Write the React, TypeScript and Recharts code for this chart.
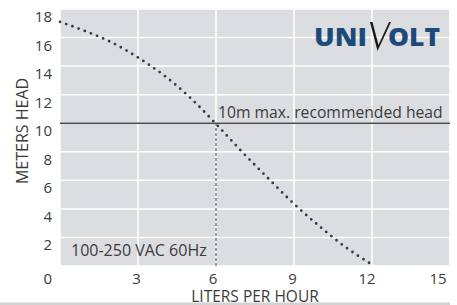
import React from "react";
import { ComposedChart, Line, XAxis, YAxis, CartesianGrid, ReferenceLine } from "recharts";

const flowLph = [0, 1, 2, 3, 4, 5, 6, 7, 8, 9, 10, 11, 12];
const headM = [17.1, 16.43, 15.65, 14.6, 13.35, 11.8, 9.95, 8.0, 6.15, 4.35, 2.75, 1.3, 0.1];
const xTicks = [0, 3, 6, 9, 12, 15];
const yTicks = [0, 2, 4, 6, 8, 10, 12, 14, 16, 18];
const maxHead = 10;
const maxHeadFlow = 6;

const data = flowLph.map((x, i) => ({ x, y: headM[i] }));

const FONT = "'Open Sans', 'Noto Sans', sans-serif";
const TXT = "#3b3b3d";

const YTick = (props: any) => {
  const { x, y, payload } = props;
  const v = payload.value;
  return (
    <text x={x} y={y + (v === 0 ? 11.5 : 7)} textAnchor="end" dominantBaseline="central"
      fontFamily={FONT} fontSize={15} fill={TXT}>{v}</text>
  );
};

const XTick = (props: any) => {
  const { x, y, payload } = props;
  const v = payload.value;
  if (v === 0) return null;
  const dx = v === 15 ? -11 : v === 12 ? -5 : v === 6 ? -3 : -1.5;
  return (
    <text x={x + dx} y={y + 11.5} textAnchor="middle" dominantBaseline="central"
      fontFamily={FONT} fontSize={15} fill={TXT}>{v}</text>
  );
};

export default function App() {
  return (
    <div style={{ position: "absolute", left: 0, top: 0, width: 457, height: 305, background: "#fff" }}>
      <ComposedChart width={457} height={305} data={data} margin={{ top: 9, right: 7, bottom: 9, left: 0 }}>
        <CartesianGrid fill="#dcdde0" stroke="#ffffff" strokeWidth={1.5} />
        <XAxis dataKey="x" type="number" domain={[0, 15]} ticks={xTicks} height={30}
          axisLine={false} tickLine={false} tickSize={0} tickMargin={0} tick={<XTick />} />
        <YAxis type="number" domain={[0, 18]} ticks={yTicks} width={60}
          axisLine={false} tickLine={false} tickSize={0} tickMargin={8} tick={<YTick />} />
        <ReferenceLine y={maxHead} stroke="#4a4c52" strokeWidth={1.5} />
        <ReferenceLine segment={[{ x: maxHeadFlow, y: 0 }, { x: maxHeadFlow, y: maxHead }]}
          stroke="#3c3e44" strokeWidth={1} strokeDasharray="3 2" />
        <Line dataKey="y" type="monotone" stroke="#363942" strokeWidth={2.8}
          strokeDasharray="0 6.6" strokeLinecap="round" dot={false} isAnimationActive={false} />
      </ComposedChart>
      <svg width={457} height={305} style={{ position: "absolute", left: 0, top: 0, pointerEvents: "none" }}>
        <text x={22} y={131} transform="rotate(-90 22 131)" textAnchor="middle" dominantBaseline="central"
          fontFamily={FONT} fontSize={16} fill={TXT}>METERS HEAD</text>
        <rect x={0} y={302.5} width={450} height={3} fill="#d2d2d2" />
        <text x={255} y={302} textAnchor="middle"
          fontFamily={FONT} fontSize={15.5} fill={TXT}>LITERS PER HOUR</text>
        <text x={218} y={117.5} fontFamily={FONT} fontSize={15.7} fill={TXT}>10m max. recommended head</text>
        <text x={71} y={255.5} fontFamily={FONT} fontSize={16} fill={TXT}>100-250 VAC 60Hz</text>
        <text x={314} y={46} fontFamily={FONT} fontWeight={800} fontSize={24} fill="#1c4a7a"
          textLength={53} lengthAdjust="spacingAndGlyphs">UNI</text>
        <polygon points="370,22 377.5,51 391,22 389,22 378.5,45 372.5,22" fill="#1a1a1a" />
        <text x={388} y={46} fontFamily={FONT} fontWeight={800} fontSize={24} fill="#1c4a7a"
          textLength={52} lengthAdjust="spacingAndGlyphs">OLT</text>
      </svg>
    </div>
  );
}
